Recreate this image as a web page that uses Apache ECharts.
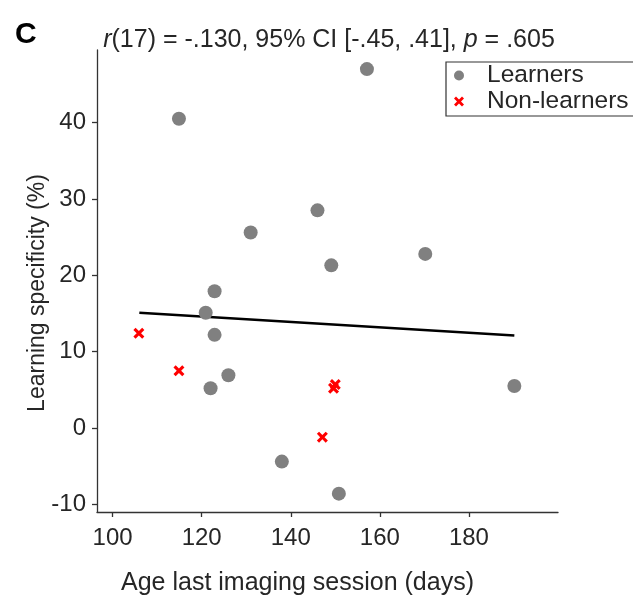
<!DOCTYPE html>
<html><head><meta charset="utf-8">
<script src="https://cdn.jsdelivr.net/npm/echarts@6/dist/echarts.min.js"></script>
<style>html,body{margin:0;padding:0;background:#fff}#c{width:633px;height:596px}</style>
</head><body><div id="c"></div>
<script>
const learnersAge  = [114.9, 146.0, 131.0, 149.1, 122.9, 120.9, 122.9, 126.0, 122.0, 138.0, 150.8, 157.1, 170.2, 190.2];
const learnersSpec = [40.5, 28.5, 25.6, 21.3, 17.9, 15.1, 12.2, 6.9, 5.2, -4.4, -8.6, 47.0, 22.8, 5.5];
const nonLearnersAge  = [105.9, 114.9, 149.6, 150.0, 147.1];
const nonLearnersSpec = [12.4, 7.5, 5.2, 5.7, -1.2];
const fitAge  = [106, 190.2];
const fitSpec = [15.1, 12.1];
const xTicks = [100, 120, 140, 160, 180];
const yTicks = [-10, 0, 10, 20, 30, 40];

const FONT = '"Liberation Sans", Arial, sans-serif';
const TXT = '#262626';
const CROSS = 'path://M0,2 L2,0 L5,3 L8,0 L10,2 L7,5 L10,8 L8,10 L5,7 L2,10 L0,8 L3,5 Z';

const zip = (a, b) => a.map((v, i) => [v, b[i]]);
const chart = echarts.init(document.getElementById('c'), null, {renderer: 'canvas'});
chart.setOption({
  animation: false,
  backgroundColor: '#fff',
  textStyle: {fontFamily: FONT},
  title: [{
    text: '{i|r}(17) = -.130, 95% CI [-.45, .41], {i|p} = .605',
    left: 324, top: 23, textAlign: 'center',
    textStyle: {fontFamily: FONT, fontSize: 25, fontWeight: 'normal', color: TXT,
      rich: {i: {fontFamily: FONT, fontSize: 25, fontStyle: 'italic', color: TXT}}}
  }, {
    text: 'C', left: 10, top: 15,
    textStyle: {fontFamily: FONT, fontSize: 30, fontWeight: 'bold', color: '#000'}
  }],
  legend: {
    left: 446, top: 62, orient: 'vertical',
    data: [{name: 'Learners', icon: 'circle'}, {name: 'Non-learners', icon: CROSS}],
    itemWidth: 10, itemHeight: 10, itemGap: 1,
    padding: [1, 20, 2, 8],
    borderColor: '#333', borderWidth: 1.2, borderRadius: 0,
    textStyle: {fontFamily: FONT, fontSize: 24.5, color: TXT, lineHeight: 24, padding: [0, 0, 0, 18]}
  },
  grid: {left: 97, right: 75, top: 50, bottom: 84, containLabel: false, outerBoundsMode: 'none'},
  xAxis: {
    type: 'value', min: 96.5, max: 200,
    name: 'Age last imaging session (days)', nameLocation: 'middle', nameGap: 59,
    nameMoveOverlap: false,
    nameTextStyle: {fontFamily: FONT, fontSize: 25, color: TXT, padding: [0, 60, 0, 0]},
    axisLine: {show: true, onZero: false, lineStyle: {color: '#333', width: 1.3}},
    axisTick: {show: true, length: 5, lineStyle: {color: '#333', width: 1.3},
      customValues: xTicks},
    axisLabel: {fontFamily: FONT, fontSize: 24, color: TXT, margin: 14, customValues: xTicks},
    splitLine: {show: false}
  },
  yAxis: {
    type: 'value', min: -11, max: 49.5,
    name: 'Learning specificity (%)', nameLocation: 'middle', nameGap: 48,
    nameMoveOverlap: false,
    nameTextStyle: {fontFamily: FONT, fontSize: 23, color: TXT, padding: [0, 24, 0, 0]},
    axisLine: {show: true, onZero: false, lineStyle: {color: '#333', width: 1.3}},
    axisTick: {show: true, length: 5, lineStyle: {color: '#333', width: 1.3},
      customValues: yTicks},
    axisLabel: {fontFamily: FONT, fontSize: 24, color: TXT, margin: 11, customValues: yTicks},
    splitLine: {show: false}
  },
  series: [{
    name: 'Learners', type: 'scatter', symbol: 'circle', symbolSize: 14,
    itemStyle: {color: '#808080', opacity: 1},
    data: zip(learnersAge, learnersSpec), z: 3
  }, {
    name: 'Non-learners', type: 'scatter', symbol: CROSS, symbolSize: 11,
    itemStyle: {color: '#ff0000', opacity: 1},
    data: zip(nonLearnersAge, nonLearnersSpec), z: 4
  }, {
    name: 'fit', type: 'line', data: zip(fitAge, fitSpec), showSymbol: false, symbol: 'none',
    lineStyle: {color: '#000', width: 2.5}, z: 2, silent: true
  }]
});
</script></body></html>
